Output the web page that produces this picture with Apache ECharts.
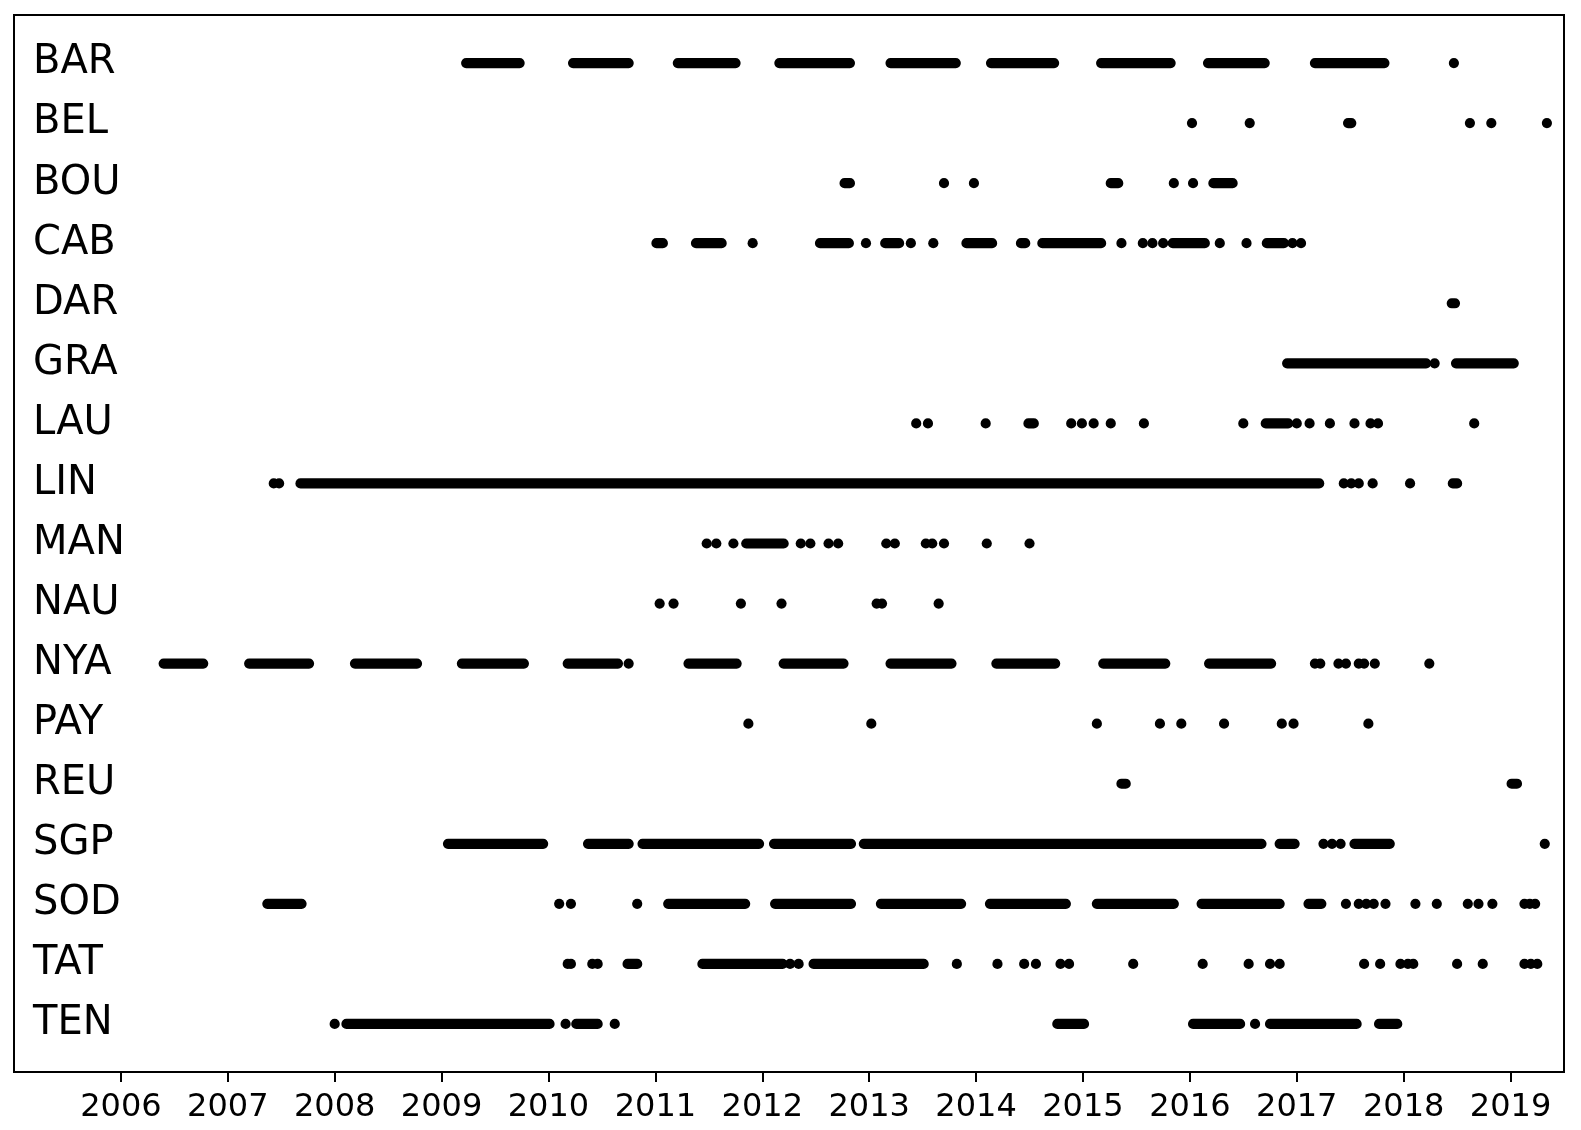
<!DOCTYPE html>
<html>
<head>
<meta charset="utf-8">
<title>Station coverage</title>
<script src="https://cdn.jsdelivr.net/npm/echarts@6/dist/echarts.min.js"></script>
<style>
  html, body { margin: 0; padding: 0; background: #fff; }
  #chart { width: 1581px; height: 1130px; }
</style>
</head>
<body>
<div id="chart"></div>
<script>
// stations, top to bottom
const stations = ['BAR', 'BEL', 'BOU', 'CAB', 'DAR', 'GRA', 'LAU', 'LIN', 'MAN',
  'NAU', 'NYA', 'PAY', 'REU', 'SGP', 'SOD', 'TAT', 'TEN'];

const yearTicks = [2006, 2007, 2008, 2009, 2010, 2011, 2012, 2013, 2014, 2015, 2016, 2017, 2018, 2019];

// decimal year of each observation; [a, b] = run of consecutive dots from a to b
const BAR = [[2009.23, 2009.73], [2010.23, 2010.75], [2011.21, 2011.75], [2012.16, 2012.82],
  [2013.20, 2013.81], [2014.14, 2014.73], [2015.17, 2015.82], [2016.17, 2016.70],
  [2017.17, 2017.82], 2018.47];
const BEL = [2016.02, 2016.56, [2017.48, 2017.51], 2018.62, 2018.82, 2019.34];
const BOU = [[2012.77, 2012.82], 2013.70, 2013.98, [2015.26, 2015.33], 2015.85, 2016.03,
  [2016.22, 2016.40]];
const CAB = [[2011.01, 2011.07], [2011.38, 2011.62], 2011.91, [2012.54, 2012.81], 2012.97,
  [2013.15, 2013.28], 2013.39, 2013.60, [2013.91, 2014.15], [2014.42, 2014.46],
  [2014.62, 2015.17], 2015.36, 2015.56, 2015.65, 2015.75, [2015.84, 2016.14], 2016.28,
  2016.53, [2016.72, 2016.88], 2016.96, 2017.04];
const DAR = [[2018.45, 2018.48]];
const GRA = [[2016.91, 2018.21], 2018.29, [2018.49, 2019.03]];
const LAU = [2013.44, 2013.55, 2014.09, [2014.49, 2014.54], 2014.89, 2014.99, 2015.10,
  2015.26, 2015.57, 2016.50, [2016.71, 2016.92], 2017.00, 2017.12, 2017.31, 2017.54,
  2017.69, 2017.76, 2018.66];
const LIN = [2007.43, 2007.48, [2007.68, 2017.21], 2017.44, 2017.51, 2017.58, 2017.71,
  2018.06, [2018.46, 2018.50]];
const MAN = [2011.48, 2011.57, 2011.73, [2011.85, 2012.20], 2012.36, 2012.45, 2012.62,
  2012.71, 2013.16, 2013.24, 2013.53, 2013.59, 2013.70, 2014.10, 2014.50];
const NAU = [2011.04, 2011.17, 2011.80, 2012.18, 2013.07, 2013.12, 2013.65];
const NYA = [[2006.40, 2006.77], [2007.20, 2007.76], [2008.19, 2008.77], [2009.19, 2009.77],
  [2010.18, 2010.65], 2010.75, [2011.31, 2011.76], [2012.20, 2012.76], [2013.20, 2013.77],
  [2014.19, 2014.74], [2015.19, 2015.77], [2016.18, 2016.76], 2017.17, 2017.22, 2017.39,
  2017.46, 2017.58, 2017.63, 2017.73, 2018.24];
const PAY = [2011.87, 2013.02, 2015.13, 2015.72, 2015.92, 2016.32, 2016.86, 2016.97, 2017.67];
const REU = [[2015.36, 2015.40], [2019.01, 2019.06]];
const SGP = [[2009.06, 2009.95], [2010.37, 2010.75], [2010.88, 2011.97], [2012.11, 2012.83],
  [2012.95, 2016.67], [2016.84, 2016.98], 2017.25, 2017.33, 2017.41, [2017.54, 2017.87],
  2019.32];
const SOD = [[2007.37, 2007.69], 2010.10, 2010.21, 2010.83, [2011.12, 2011.84],
  [2012.12, 2012.83], [2013.11, 2013.86], [2014.13, 2014.84], [2015.13, 2015.85],
  [2016.11, 2016.84], [2017.11, 2017.23], 2017.46, 2017.58, 2017.65, 2017.72, 2017.83,
  2018.11, 2018.31, 2018.60, 2018.70, 2018.83, 2019.13, 2019.18, 2019.23];
const TAT = [2010.18, 2010.21, 2010.41, 2010.46, [2010.74, 2010.83], [2011.44, 2012.19],
  2012.26, 2012.34, [2012.48, 2013.51], 2013.82, 2014.20, 2014.45, 2014.56, 2014.79,
  2014.87, 2015.47, 2016.12, 2016.55, 2016.75, 2016.84, 2017.63, 2017.78, 2017.97,
  2018.04, 2018.09, 2018.50, 2018.74, 2019.13, 2019.19, 2019.25];
const TEN = [2008.00, [2008.11, 2010.01], 2010.16, [2010.26, 2010.46], 2010.62,
  [2014.76, 2015.01], [2016.03, 2016.47], 2016.61, [2016.75, 2017.56], [2017.77, 2017.94]];

const observations = [BAR, BEL, BOU, CAB, DAR, GRA, LAU, LIN, MAN, NAU, NYA, PAY, REU,
  SGP, SOD, TAT, TEN];

// flatten to [start, end, row]
var spans = [];
observations.forEach(function (list, row) {
  list.forEach(function (d) {
    if (Array.isArray(d)) spans.push([d[0], d[1], row]);
    else spans.push([d, d, row]);
  });
});

var myChart = echarts.init(document.getElementById('chart'));
var DOT = 5.1; // dot radius in px
var font = 'DejaVu Sans';

var option = {
  backgroundColor: '#fff',
  animation: false,
  grid: {
    left: 14, right: 17, top: 15, bottom: 58,
    show: true, borderColor: '#000', borderWidth: 2, backgroundColor: '#fff'
  },
  xAxis: {
    type: 'value',
    min: 2005, max: 2019.5,
    axisLine: { show: true, onZero: false, lineStyle: { color: '#000', width: 2 } },
    axisTick: { show: true, customValues: yearTicks, length: 10, lineStyle: { color: '#000', width: 2 } },
    axisLabel: {
      customValues: yearTicks, color: '#000', fontSize: 32, fontFamily: font, margin: 20,
      formatter: function (v) { return String(v); }
    },
    splitLine: { show: false }
  },
  yAxis: {
    type: 'value',
    min: -0.8, max: 16.8,
    inverse: true,
    axisLine: { show: false, onZero: false },
    axisTick: { show: false },
    splitLine: { show: false },
    axisLabel: {
      inside: true,
      customValues: stations.map(function (s, i) { return i; }),
      formatter: function (v) { return stations[Math.round(v)]; },
      color: '#000', fontSize: 40, fontFamily: font, margin: 19,
      padding: [0, 0, 8, 0]
    }
  },
  series: [{
    type: 'custom',
    data: spans,
    encode: { x: [0, 1], y: 2 },
    clip: true,
    renderItem: function (params, api) {
      var a = api.coord([api.value(0), api.value(2)]);
      var b = api.coord([api.value(1), api.value(2)]);
      return {
        type: 'rect',
        shape: { x: a[0] - DOT, y: a[1] - DOT, width: b[0] - a[0] + 2 * DOT, height: 2 * DOT, r: DOT },
        style: { fill: '#000' }
      };
    }
  }]
};

myChart.setOption(option);
</script>
</body>
</html>
